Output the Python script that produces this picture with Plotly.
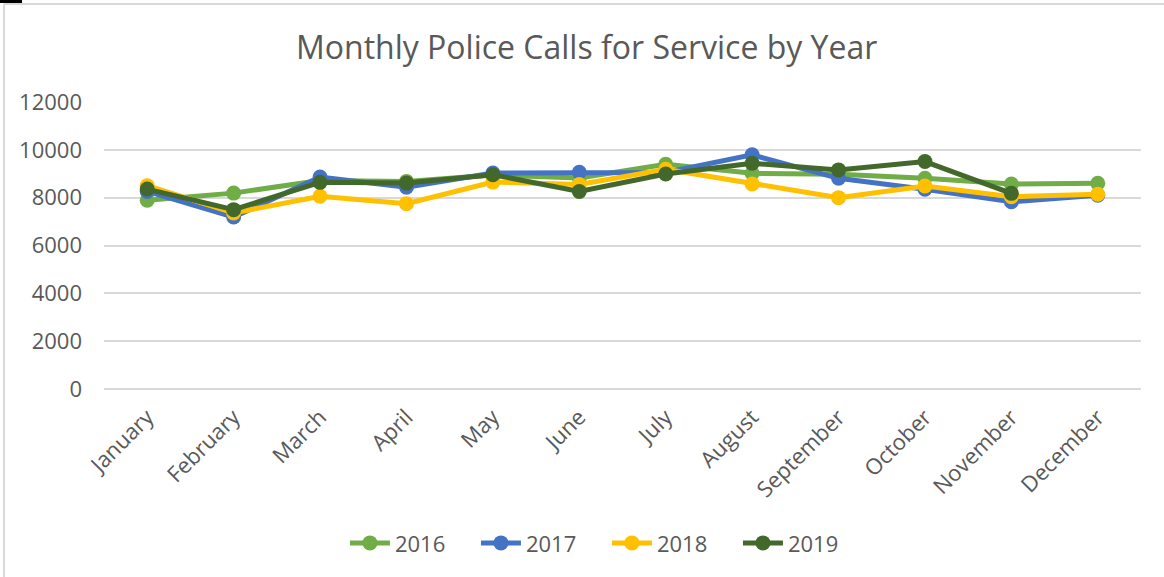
import plotly.graph_objects as go

months = ["January", "February", "March", "April", "May", "June",
          "July", "August", "September", "October", "November", "December"]

calls_2016 = [7890, 8190, 8720, 8680, 8950, 8820, 9400, 9020, 8980, 8810, 8570, 8600]
calls_2017 = [8260, 7190, 8860, 8440, 9030, 9060, 9050, 9790, 8810, 8350, 7830, 8100]
calls_2018 = [8500, 7360, 8060, 7750, 8650, 8550, 9190, 8570, 8000, 8490, 8040, 8140]
calls_2019 = [8360, 7500, 8640, 8610, 8960, 8260, 8990, 9440, 9160, 9510, 8180, None]

series = [
    ("2016", calls_2016, "#70AD47"),
    ("2017", calls_2017, "#4472C4"),
    ("2018", calls_2018, "#FFC000"),
    ("2019", calls_2019, "#43682B"),
]

text_color = "#595959"
grid_color = "#D9D9D9"

fig = go.Figure()

for name, vals, color in series:
    fig.add_trace(go.Scatter(
        x=months, y=vals,
        mode="lines+markers",
        name=name,
        line=dict(color=color, width=5),
        marker=dict(color=color, size=15),
    ))

# thin frame around the chart, like the Excel chart border
shapes = [
    dict(type="line", xref="paper", yref="paper", x0=-0.0964, x1=1.03,
         y0=1.3415, y1=1.3415, line=dict(color=grid_color, width=2)),
    dict(type="line", xref="paper", yref="paper", x0=-0.0964, x1=-0.0964,
         y0=1.3415, y1=-0.7, line=dict(color=grid_color, width=2)),
    dict(type="rect", xref="paper", yref="paper", x0=-0.101, x1=-0.0791,
         y0=1.3449, y1=1.36, fillcolor="black", line=dict(width=0)),
]

fig.update_layout(
    width=1164,
    height=577,
    paper_bgcolor="white",
    plot_bgcolor="white",
    font=dict(family="Open Sans", color=text_color, size=22),
    title=dict(text="Monthly Police Calls for Service by Year",
               x=0.504, xanchor="center", y=0.918, yanchor="middle",
               font=dict(size=32, color=text_color)),
    margin=dict(l=104, r=23, t=102, b=188, autoexpand=False),
    showlegend=True,
    legend=dict(orientation="h", x=0.485, xanchor="center", y=-0.537, yanchor="middle",
                font=dict(size=22, color=text_color), itemwidth=40,
                entrywidth=76, entrywidthmode="pixels"),
    xaxis=dict(
        automargin=False,
        range=[-0.5, 11.5],
        tickangle=-45,
        showgrid=False,
        showline=False,
        ticks="",
        ticklabelstandoff=10,
        tickfont=dict(size=22, color=text_color),
    ),
    yaxis=dict(
        automargin=False,
        range=[0, 12000],
        tickvals=[0, 2000, 4000, 6000, 8000, 10000, 12000],
        ticktext=["0", "2000", "4000", "6000", "8000", "10000", "12000"],
        showgrid=True,
        gridcolor=grid_color,
        gridwidth=1.5,
        zeroline=True,
        zerolinecolor=grid_color,
        zerolinewidth=1.5,
        showline=False,
        ticks="",
        ticklabelstandoff=21,
        tickfont=dict(size=22, color=text_color),
    ),
    shapes=shapes,
)

fig.write_html("out.html", config={"displayModeBar": False},
               post_script="document.body.style.margin='0';")
